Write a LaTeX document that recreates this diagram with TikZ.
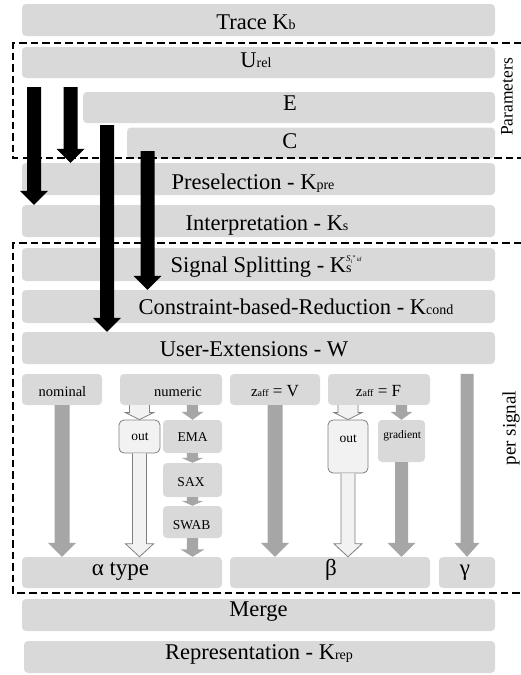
\documentclass[tikz,border=0pt]{standalone}
\usepackage{fontspec}
\setmainfont{Liberation Serif}
\usetikzlibrary{calc}

\definecolor{boxgray}{HTML}{D9D9D9}
\definecolor{arrowgray}{HTML}{A6A6A6}
\definecolor{paleface}{HTML}{F2F2F2}
\definecolor{rimgray}{HTML}{7F7F7F}

% small index letters set on the baseline
\newcommand\lowtext[1]{{\fontsize{14}{14}\selectfont #1}}
% subscripted z with its "aff" index
\newcommand\zaff{{\fontsize{15}{15}\selectfont z}{\fontsize{10}{10}\selectfont aff}}
% block arrow pointing down: style, from, to, shaft half width, head half width, head length
\newcommand\blockdown[6]{%
  \path[#1] let \p1=(#2), \p2=(#3) in
    (\x1-#4,\y1) -- (\x1-#4,\y2+#6) -- (\x1-#5,\y2+#6) -- (\x1,\y2)
    -- (\x1+#5,\y2+#6) -- (\x1+#4,\y2+#6) -- (\x1+#4,\y1);}

\begin{document}
\begin{tikzpicture}[x=1pt,y=-1pt,
  panel/.style={fill=boxgray, rounded corners=4pt, inner sep=0pt, draw=none},
  palebox/.style={fill=paleface, draw=rimgray, line width=0.8pt, rounded corners=5pt, inner sep=0pt},
  lbl/.style={anchor=base, inner sep=0pt, font=\fontsize{22.5}{24}\selectfont},
  greek/.style={anchor=base, inner sep=0pt, font=\fontsize{23}{24}\selectfont},
  slbl/.style={anchor=base, inner sep=0pt, font=\fontsize{14.5}{16}\selectfont},
  tlbl/.style={anchor=base, inner sep=0pt, font=\fontsize{13.5}{15}\selectfont},
  side/.style={inner sep=0pt, rotate=90},
  frame/.style={dash pattern=on 7.5pt off 4pt, line width=1.2pt},
  blackarrow/.style={fill=black},
  grayarrow/.style={fill=arrowgray},
  hollowarrow/.style={fill=paleface, draw=rimgray, line width=0.8pt}
]
\useasboundingbox (0,0) rectangle (521,675);

% ---------- stage boxes ----------
\node[panel, minimum width=473pt, minimum height=32pt] (trace) at (258.5,20) {};
\node[panel, minimum width=473pt, minimum height=31pt] (urel) at (258.5,62.5) {};
\node[panel, minimum width=412pt, minimum height=31pt] (E) at (289,107.5) {};
\node[panel, minimum width=368pt, minimum height=31pt] (C) at (311,143) {};
\node[panel, minimum width=473pt, minimum height=32pt] (presel) at (258.5,179) {};
\node[panel, minimum width=473pt, minimum height=32pt] (interp) at (258.5,221) {};
\node[panel, minimum width=473pt, minimum height=33pt] (split) at (258.5,264.5) {};
\node[panel, minimum width=473pt, minimum height=33pt] (constr) at (258.5,306.5) {};
\node[panel, minimum width=473pt, minimum height=32pt] (userext) at (258.5,348) {};

\node[panel, minimum width=80pt, minimum height=31pt] (nominal) at (62,389.5) {};
\node[panel, minimum width=102pt, minimum height=31pt] (numeric) at (171,389.5) {};
\node[panel, minimum width=90pt, minimum height=31pt] (zaffV) at (275,389.5) {};
\node[panel, minimum width=102pt, minimum height=31pt] (zaffF) at (379,389.5) {};

\node[palebox, minimum width=41pt, minimum height=33pt] (out1) at (139.5,436.5) {};
\node[panel, minimum width=59pt, minimum height=33pt] (EMA) at (192.5,436.5) {};
\node[panel, minimum width=59pt, minimum height=34pt] (SAX) at (192.5,480) {};
\node[panel, minimum width=59pt, minimum height=32pt] (SWAB) at (192.5,522) {};
\node[palebox, minimum width=40pt, minimum height=53pt] (out2) at (348,446.5) {};
\node[panel, minimum width=47pt, minimum height=42pt] (gradient) at (401.5,441) {};

\node[panel, minimum width=200pt, minimum height=31pt] (alpha) at (122,572.5) {};
\node[panel, minimum width=200pt, minimum height=31pt] (beta) at (330,572.5) {};
\node[panel, minimum width=56pt, minimum height=31pt] (gamma) at (467,572.5) {};

\node[panel, minimum width=473pt, minimum height=32pt] (merge) at (258.5,615) {};
\node[panel, minimum width=471pt, minimum height=32pt] (rep) at (259.5,657) {};

% ---------- texts ----------
\node[lbl] (traceT) at (256,29.3) {Trace K\lowtext{b}};
\node[lbl] (urelT) at (256,67.7) {U\lowtext{rel}};
\node[lbl] (ET) at (290,110) {E};
\node[lbl] (CT) at (290,148.3) {C};
\node[lbl] (preselT) at (253,189) {Preselection - K\lowtext{pre}};
\node[lbl] (interpT) at (267,230.7) {Interpretation - K\lowtext{s}};
\node[lbl] (splitT) at (266,272.7) {Signal Splitting - K\rlap{\lowtext{s}}\raisebox{11pt}{\fontsize{9}{9}\selectfont\itshape S\raisebox{-1.5pt}{\fontsize{6}{6}\selectfont i}\raisebox{2.5pt}{\fontsize{6}{6}\selectfont *}\,{\fontsize{6}{6}\selectfont id}}};
\node[lbl] (constrT) at (296,314) {Constraint-based-Reduction - K\lowtext{cond}};
\node[lbl] (userextT) at (254,356) {User-Extensions - W};

\node[slbl] (nominalT) at (62.5,396.7) {nominal};
\node[slbl] (numericT) at (178,396.7) {numeric};
\node[anchor=base, inner sep=0pt, font=\fontsize{17}{17}\selectfont] (zaffVT) at (275,396.7) {\zaff\ = V};
\node[anchor=base, inner sep=0pt, font=\fontsize{17}{17}\selectfont] (zaffFT) at (378.5,396.7) {\zaff\ = F};

\node[tlbl] (out1T) at (140,440.7) {out};
\node[tlbl] (EMAT) at (192.5,441.7) {EMA};
\node[tlbl] (SAXT) at (191,486) {SAX};
\node[tlbl] (SWABT) at (191.7,529.3) {SWAB};
\node[tlbl] (out2T) at (348.3,442.3) {out};
\node[anchor=base, inner sep=0pt, font=\fontsize{11.5}{12}\selectfont] (gradientT) at (402.3,438.3) {gradient};

\node[greek] (alphaT) at (120.5,575.5) {α type};
\node[greek] (betaT) at (331,575.5) {β};
\node[greek] (gammaT) at (465,575.5) {γ};

\node[lbl] (mergeT) at (258.5,616.7) {Merge};
\node[lbl] (repT) at (259,659) {Representation - K\lowtext{rep}};

% ---------- dashed groups ----------
\draw[frame] (521,43) -- (13,43) -- (13,158) -- (521,158);
\draw[frame] (521,243) -- (13,243) -- (13,593) -- (521,593);
\node[side, font=\fontsize{17.5}{18}\selectfont] (paramT) at (507,97) {Parameters};
\node[side, font=\fontsize{19}{20}\selectfont] (persigT) at (511,428) {per signal};

% ---------- parameter arrows ----------
\coordinate (a1top) at (34,87);
\coordinate (a2top) at (70.5,87);
\coordinate (a3top) at (107,125);
\coordinate (a4top) at (147.5,151);
\blockdown{blackarrow}{a1top}{a1top |- interp.north}{7pt}{14pt}{14pt}
\blockdown{blackarrow}{a2top}{a2top |- presel.north}{7pt}{14pt}{14pt}
\blockdown{blackarrow}{a3top}{a3top |- userext.north}{7pt}{14pt}{14pt}
\blockdown{blackarrow}{a4top}{a4top |- constr.north}{7pt}{14pt}{14pt}

% ---------- per-signal flows ----------
\blockdown{grayarrow}{nominal.south}{nominal.south |- alpha.north}{7.5pt}{14pt}{14pt}
\blockdown{grayarrow}{zaffV.south}{zaffV.south |- beta.north}{7.5pt}{14pt}{14pt}
\blockdown{grayarrow}{gamma.north |- nominal.north}{gamma.north}{6.5pt}{12.5pt}{14pt}
\blockdown{grayarrow}{EMA.north |- numeric.south}{EMA.north}{5.7pt}{11pt}{8pt}
\blockdown{grayarrow}{EMA.south}{SAX.north}{5.7pt}{11pt}{5pt}
\blockdown{grayarrow}{SAX.south}{SWAB.north}{5.7pt}{11pt}{5pt}
\blockdown{grayarrow}{SWAB.south}{SWAB.south |- alpha.north}{5.7pt}{12pt}{7.5pt}
\blockdown{grayarrow}{gradient.north |- zaffF.south}{gradient.north}{5.7pt}{11pt}{8pt}
\blockdown{grayarrow}{gradient.south}{gradient.south |- beta.north}{6.5pt}{14pt}{14pt}

\blockdown{hollowarrow}{out1.north |- numeric.south}{out1.north}{10pt}{14pt}{7pt}
\blockdown{hollowarrow}{out1.south}{out1.south |- alpha.north}{7pt}{14pt}{13pt}
\blockdown{hollowarrow}{out2.north |- zaffF.south}{out2.north}{10pt}{14pt}{7pt}
\blockdown{hollowarrow}{out2.south}{out2.south |- beta.north}{7pt}{14pt}{13pt}
\end{tikzpicture}
\end{document}
